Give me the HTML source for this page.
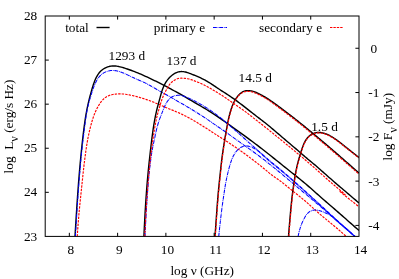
<!DOCTYPE html>
<html>
<head>
<meta charset="utf-8">
<title>Radio spectra</title>
<style>
html,body{margin:0;padding:0;background:#ffffff;}
body{width:399px;height:279px;overflow:hidden;font-family:"Liberation Serif",serif;}
svg{display:block;will-change:transform;}
</style>
</head>
<body>
<svg width="399" height="279" viewBox="0 0 399 279">
<rect x="0" y="0" width="399" height="279" fill="#ffffff"/>
<defs><clipPath id="cp"><rect x="45.20" y="16.00" width="313.80" height="220.40"/></clipPath></defs>
<g clip-path="url(#cp)" fill="none" stroke-linejoin="round">
<path d="M75.00,236.50L75.15,233.94L75.31,231.37L75.47,228.78L75.62,226.18L75.78,223.56L75.95,220.93L76.11,218.29L76.28,215.63L76.45,212.97L76.62,210.30L76.79,207.62L76.97,204.93L77.15,202.24L77.34,199.55L77.52,196.85L77.71,194.15L77.91,191.44L78.11,188.74L78.31,186.04L78.51,183.34L78.72,180.64L78.94,177.95L79.15,175.27L79.38,172.59L79.61,169.91L79.84,167.25L80.08,164.59L80.32,161.93L80.57,159.26L80.83,156.57L81.10,153.84L81.38,151.07L81.67,148.25L81.98,145.38L82.29,142.49L82.61,139.60L82.94,136.72L83.27,133.89L83.61,131.11L83.95,128.42L84.29,125.81L84.64,123.29L84.99,120.85L85.35,118.48L85.72,116.19L86.10,113.97L86.49,111.81L86.89,109.71L87.31,107.65L87.74,105.63L88.18,103.64L88.64,101.66L89.12,99.71L89.61,97.75L90.12,95.79L90.64,93.82L91.18,91.85L91.74,89.89L92.30,87.97L92.88,86.12L93.46,84.34L94.06,82.66L94.67,81.06L95.29,79.56L95.94,78.14L96.61,76.80L97.32,75.55L98.06,74.38L98.83,73.29L99.65,72.28L100.51,71.34L101.42,70.48L102.38,69.70L103.37,68.99L104.41,68.36L105.47,67.80L106.55,67.32L107.66,66.90L108.78,66.56L109.91,66.30L111.05,66.10L112.18,65.97L113.32,65.92L114.44,65.94L115.56,66.01L116.68,66.15L117.80,66.33L118.92,66.56L120.05,66.82L121.19,67.12L122.34,67.44L123.51,67.79L124.71,68.16L125.97,68.56L127.30,69.00L128.68,69.47L130.12,69.98L131.60,70.52L133.12,71.09L134.66,71.68L136.21,72.30L137.77,72.93L139.31,73.57L140.85,74.23L142.39,74.90L143.91,75.58L145.43,76.27L146.95,76.97L148.45,77.67L149.95,78.38L151.43,79.09L152.91,79.80L154.39,80.51L155.85,81.22L157.30,81.93L158.76,82.65L160.21,83.37L161.67,84.10L163.14,84.85L164.61,85.61L166.11,86.40L167.62,87.21L169.16,88.04L170.74,88.91L172.37,89.81L174.07,90.75L175.83,91.72L177.62,92.72L179.43,93.73L181.22,94.73L182.97,95.73L184.67,96.70L186.31,97.65L187.93,98.60L189.53,99.53L191.12,100.47L192.72,101.42L194.35,102.39L196.04,103.37L197.78,104.39L199.59,105.44L201.44,106.51L203.30,107.59L205.15,108.67L206.95,109.74L208.68,110.79L210.34,111.82L211.93,112.83L213.48,113.83L214.99,114.83L216.47,115.82L217.93,116.82L219.38,117.82L220.83,118.84L222.28,119.87L223.76,120.93L225.27,122.01L226.82,123.12L228.42,124.26L230.07,125.44L231.75,126.64L233.47,127.87L235.21,129.11L236.96,130.37L238.72,131.63L240.48,132.90L242.24,134.16L243.98,135.42L245.70,136.66L247.39,137.89L249.05,139.12L250.70,140.33L252.33,141.54L253.94,142.75L255.55,143.96L257.14,145.17L258.72,146.38L260.30,147.60L261.87,148.82L263.45,150.05L265.02,151.28L266.60,152.53L268.18,153.78L269.78,155.04L271.38,156.32L272.99,157.61L274.62,158.91L276.27,160.23L277.94,161.57L279.63,162.92L281.34,164.30L283.08,165.69L284.85,167.10L286.65,168.54L288.47,169.99L290.32,171.46L292.18,172.94L294.03,174.42L295.87,175.90L297.70,177.37L299.49,178.82L301.24,180.24L302.95,181.64L304.59,183.00L306.17,184.32L307.67,185.60L309.12,186.85L310.53,188.08L311.91,189.29L313.28,190.51L314.64,191.72L315.99,192.93L317.34,194.13L318.69,195.34L320.04,196.53L321.41,197.74L322.83,198.98L324.32,200.27L325.88,201.62L327.52,203.02L329.22,204.48L330.98,205.99L332.77,207.54L334.61,209.12L336.46,210.73L338.33,212.36L340.20,214.00L342.06,215.63L343.90,217.25L345.71,218.85L347.49,220.41L349.21,221.94L350.87,223.40L352.47,224.81L353.98,226.13L355.40,227.38L356.71,228.53L357.92,229.57L359.00,230.50" stroke="#000000" stroke-width="1.40"/>
<path d="M75.40,236.50L75.54,234.10L75.69,231.68L75.83,229.26L75.98,226.82L76.13,224.38L76.28,221.93L76.43,219.47L76.59,217.00L76.74,214.52L76.90,212.03L77.07,209.54L77.23,207.04L77.40,204.54L77.57,202.03L77.74,199.51L77.92,196.99L78.10,194.46L78.28,191.93L78.47,189.39L78.66,186.85L78.85,184.31L79.05,181.77L79.25,179.23L79.45,176.69L79.65,174.16L79.86,171.65L80.07,169.16L80.28,166.69L80.49,164.23L80.71,161.79L80.93,159.33L81.17,156.86L81.41,154.34L81.68,151.78L81.96,149.15L82.26,146.46L82.57,143.72L82.90,140.97L83.23,138.21L83.56,135.49L83.89,132.82L84.21,130.22L84.52,127.72L84.83,125.31L85.13,122.98L85.43,120.74L85.73,118.57L86.04,116.46L86.37,114.40L86.71,112.39L87.07,110.43L87.45,108.49L87.87,106.58L88.31,104.68L88.80,102.80L89.30,100.93L89.83,99.09L90.38,97.28L90.92,95.51L91.46,93.78L92.00,92.11L92.54,90.48L93.08,88.91L93.63,87.39L94.18,85.93L94.75,84.53L95.34,83.19L95.95,81.92L96.58,80.70L97.24,79.56L97.93,78.48L98.66,77.47L99.42,76.53L100.22,75.66L101.06,74.86L101.92,74.13L102.81,73.47L103.73,72.88L104.67,72.35L105.64,71.89L106.63,71.50L107.63,71.17L108.66,70.90L109.70,70.70L110.75,70.56L111.81,70.48L112.88,70.47L113.96,70.51L115.04,70.62L116.12,70.78L117.21,71.00L118.28,71.27L119.35,71.58L120.41,71.92L121.45,72.29L122.46,72.68L123.45,73.07L124.47,73.50L125.54,73.98L126.72,74.52L127.99,75.12L129.33,75.76L130.73,76.43L132.18,77.12L133.65,77.82L135.14,78.51L136.63,79.18L138.11,79.82L139.56,80.44L140.99,81.04L142.39,81.65L143.75,82.26L145.07,82.88L146.36,83.53L147.62,84.18L148.86,84.85L150.08,85.52L151.28,86.21L152.48,86.90L153.67,87.59L154.87,88.29L156.06,88.99L157.27,89.69L158.50,90.39L159.76,91.11L161.10,91.86L162.55,92.67L164.14,93.56L165.88,94.53L167.71,95.56L169.57,96.61L171.40,97.65L173.14,98.64L174.74,99.56L176.19,100.40L177.56,101.19L178.88,101.96L180.21,102.72L181.59,103.51L183.04,104.33L184.58,105.20L186.21,106.15L187.97,107.18L189.85,108.30L191.81,109.48L193.82,110.71L195.84,111.97L197.84,113.23L199.78,114.46L201.63,115.65L203.38,116.79L205.02,117.89L206.58,118.93L208.04,119.91L209.40,120.85L210.71,121.75L212.01,122.64L213.38,123.58L214.86,124.60L216.51,125.73L218.31,126.96L220.23,128.27L222.23,129.64L224.27,131.05L226.32,132.47L228.35,133.90L230.33,135.31L232.27,136.70L234.18,138.09L236.06,139.45L237.93,140.81L239.79,142.15L241.65,143.48L243.52,144.81L245.40,146.14L247.31,147.49L249.25,148.87L251.23,150.29L253.26,151.75L255.33,153.25L257.39,154.76L259.40,156.25L261.31,157.67L263.07,159.00L264.64,160.20L265.98,161.25L267.16,162.19L268.29,163.11L269.47,164.07L270.80,165.15L272.31,166.36L273.96,167.69L275.69,169.09L277.48,170.53L279.28,172.00L281.04,173.45L282.75,174.88L284.42,176.30L286.07,177.70L287.71,179.08L289.34,180.47L290.97,181.84L292.62,183.22L294.27,184.60L295.93,185.98L297.59,187.36L299.26,188.74L300.93,190.13L302.60,191.52L304.27,192.91L305.94,194.30L307.62,195.70L309.29,197.10L310.96,198.51L312.63,199.91L314.30,201.32L315.96,202.73L317.62,204.14L319.28,205.56L320.93,206.97L322.58,208.39L324.23,209.80L325.87,211.22L327.50,212.64L329.13,214.06L330.75,215.48L332.36,216.90L333.99,218.33L335.63,219.78L337.30,221.25L339.00,222.75L340.75,224.28L342.55,225.86L344.42,227.48L346.37,229.15L348.40,230.88L350.53,232.68L352.76,234.55L355.10,236.50" stroke="#0000ff" stroke-width="1.05" stroke-dasharray="3.8,0.8,0.8,0.8"/>
<path d="M77.25,236.50L77.51,232.59L77.77,228.87L78.04,225.33L78.30,221.96L78.56,218.75L78.81,215.68L79.07,212.75L79.33,209.94L79.58,207.24L79.84,204.64L80.09,202.13L80.34,199.70L80.59,197.33L80.83,195.01L81.07,192.73L81.32,190.49L81.55,188.26L81.79,186.04L82.02,183.81L82.26,181.57L82.49,179.32L82.72,177.06L82.96,174.79L83.20,172.50L83.45,170.20L83.71,167.89L83.97,165.57L84.25,163.23L84.54,160.91L84.83,158.60L85.13,156.33L85.43,154.09L85.73,151.91L86.03,149.78L86.34,147.73L86.64,145.74L86.95,143.81L87.27,141.91L87.61,140.05L87.95,138.20L88.31,136.37L88.69,134.55L89.08,132.75L89.49,130.97L89.90,129.23L90.32,127.52L90.75,125.85L91.18,124.23L91.62,122.66L92.07,121.13L92.52,119.64L92.99,118.19L93.47,116.78L93.96,115.41L94.47,114.07L95.00,112.76L95.55,111.48L96.12,110.23L96.72,109.00L97.34,107.80L97.98,106.63L98.66,105.47L99.36,104.34L100.09,103.24L100.85,102.18L101.64,101.17L102.45,100.22L103.29,99.33L104.15,98.52L105.04,97.78L105.95,97.14L106.88,96.57L107.83,96.08L108.79,95.66L109.76,95.30L110.74,94.99L111.73,94.74L112.71,94.53L113.69,94.36L114.67,94.22L115.64,94.10L116.60,94.01L117.56,93.94L118.52,93.89L119.48,93.87L120.45,93.88L121.44,93.91L122.45,93.96L123.47,94.05L124.53,94.16L125.61,94.29L126.75,94.46L127.96,94.67L129.27,94.92L130.70,95.21L132.23,95.54L133.80,95.91L135.36,96.28L136.85,96.65L138.22,97.01L139.45,97.35L140.60,97.68L141.70,98.02L142.83,98.37L144.01,98.75L145.24,99.16L146.52,99.59L147.83,100.04L149.17,100.52L150.52,101.01L151.90,101.52L153.27,102.06L154.65,102.60L156.01,103.17L157.36,103.74L158.70,104.32L160.02,104.90L161.33,105.49L162.62,106.06L163.90,106.63L165.15,107.18L166.39,107.71L167.60,108.22L168.80,108.71L169.98,109.18L171.17,109.65L172.37,110.13L173.59,110.63L174.83,111.14L176.09,111.67L177.37,112.22L178.66,112.79L179.97,113.38L181.30,113.99L182.65,114.62L184.01,115.28L185.39,115.97L186.78,116.68L188.19,117.41L189.62,118.17L191.05,118.96L192.50,119.78L193.96,120.63L195.40,121.48L196.81,122.33L198.16,123.16L199.42,123.95L200.59,124.69L201.67,125.38L202.71,126.05L203.75,126.71L204.83,127.39L205.96,128.10L207.11,128.82L208.27,129.55L209.41,130.27L210.51,130.98L211.61,131.70L212.74,132.45L213.97,133.26L215.32,134.14L216.84,135.12L218.49,136.17L220.25,137.29L222.08,138.45L223.95,139.65L225.84,140.86L227.72,142.07L229.56,143.27L231.36,144.46L233.13,145.65L234.87,146.83L236.60,148.02L238.31,149.20L240.01,150.40L241.70,151.60L243.39,152.82L245.09,154.05L246.81,155.31L248.53,156.59L250.28,157.90L252.06,159.24L253.86,160.62L255.68,162.01L257.49,163.41L259.26,164.80L260.97,166.15L262.60,167.46L264.13,168.70L265.52,169.85L266.79,170.93L267.97,171.93L269.12,172.90L270.28,173.83L271.49,174.76L272.78,175.70L274.15,176.67L275.59,177.67L277.10,178.72L278.66,179.83L280.27,181.01L281.92,182.26L283.60,183.58L285.31,184.95L287.03,186.34L288.76,187.75L290.48,189.16L292.19,190.55L293.88,191.90L295.55,193.23L297.22,194.55L298.89,195.88L300.57,197.22L302.27,198.61L304.00,200.04L305.77,201.54L307.57,203.11L309.40,204.73L311.25,206.39L313.11,208.06L314.96,209.72L316.80,211.38L318.62,212.99L320.41,214.56L322.16,216.06L323.88,217.51L325.57,218.92L327.24,220.30L328.90,221.66L330.56,223.01L332.21,224.36L333.87,225.73L335.54,227.11L337.23,228.53L338.95,230.00L340.70,231.51L342.49,233.10L344.32,234.76L346.20,236.50" stroke="#ff0000" stroke-width="1.15" stroke-dasharray="2.4,1.1"/>
<path d="M143.90,236.50L143.99,234.46L144.09,232.39L144.19,230.31L144.29,228.21L144.39,226.09L144.50,223.95L144.61,221.80L144.72,219.64L144.84,217.47L144.96,215.29L145.08,213.10L145.21,210.90L145.34,208.69L145.47,206.49L145.61,204.28L145.76,202.06L145.90,199.85L146.05,197.64L146.21,195.43L146.37,193.23L146.53,191.03L146.70,188.84L146.87,186.66L147.04,184.49L147.22,182.33L147.41,180.17L147.60,178.02L147.80,175.88L148.00,173.73L148.20,171.58L148.41,169.43L148.63,167.26L148.85,165.09L149.08,162.90L149.32,160.70L149.56,158.48L149.80,156.24L150.06,153.97L150.32,151.68L150.58,149.36L150.86,147.01L151.14,144.64L151.42,142.27L151.71,139.91L152.01,137.58L152.31,135.27L152.61,133.02L152.92,130.82L153.22,128.70L153.54,126.66L153.85,124.68L154.17,122.78L154.50,120.93L154.82,119.15L155.16,117.42L155.49,115.75L155.84,114.12L156.18,112.53L156.54,110.99L156.90,109.48L157.27,108.00L157.65,106.55L158.03,105.12L158.41,103.71L158.80,102.31L159.18,100.91L159.56,99.50L159.94,98.10L160.32,96.69L160.70,95.29L161.09,93.90L161.50,92.52L161.92,91.15L162.37,89.81L162.84,88.50L163.35,87.22L163.89,85.97L164.47,84.76L165.09,83.59L165.75,82.47L166.44,81.39L167.16,80.35L167.91,79.37L168.69,78.43L169.50,77.54L170.33,76.71L171.19,75.94L172.06,75.22L172.95,74.56L173.86,73.96L174.78,73.42L175.72,72.95L176.66,72.54L177.62,72.20L178.58,71.93L179.54,71.73L180.51,71.61L181.48,71.55L182.45,71.58L183.43,71.66L184.40,71.82L185.39,72.02L186.38,72.28L187.39,72.58L188.41,72.92L189.45,73.29L190.50,73.69L191.58,74.12L192.67,74.55L193.80,75.01L194.93,75.47L196.08,75.94L197.24,76.43L198.41,76.93L199.56,77.45L200.72,77.97L201.86,78.51L202.98,79.07L204.09,79.64L205.17,80.22L206.23,80.82L207.27,81.42L208.30,82.03L209.31,82.65L210.31,83.28L211.29,83.91L212.26,84.54L213.22,85.18L214.17,85.81L215.11,86.44L216.05,87.08L216.98,87.71L217.94,88.35L218.95,89.03L220.05,89.75L221.26,90.54L222.57,91.39L223.95,92.28L225.37,93.20L226.80,94.12L228.19,95.02L229.52,95.90L230.77,96.74L231.98,97.56L233.16,98.37L234.33,99.19L235.51,100.04L236.71,100.92L237.93,101.82L239.17,102.75L240.43,103.71L241.69,104.67L242.97,105.65L244.24,106.64L245.52,107.64L246.79,108.63L248.06,109.63L249.32,110.61L250.56,111.59L251.79,112.55L252.99,113.50L254.18,114.42L255.33,115.31L256.46,116.18L257.56,117.02L258.63,117.84L259.70,118.64L260.76,119.45L261.82,120.26L262.90,121.08L263.99,121.93L265.12,122.81L266.28,123.74L267.48,124.71L268.74,125.74L270.04,126.82L271.38,127.94L272.75,129.09L274.14,130.27L275.54,131.47L276.95,132.67L278.36,133.88L279.76,135.08L281.13,136.26L282.49,137.42L283.80,138.55L285.08,139.63L286.32,140.68L287.53,141.71L288.76,142.74L290.03,143.82L291.37,144.95L292.80,146.17L294.35,147.50L295.97,148.89L297.63,150.32L299.28,151.75L300.89,153.14L302.40,154.45L303.79,155.65L305.00,156.69L306.05,157.59L307.00,158.40L307.93,159.19L308.91,160.00L309.97,160.88L311.09,161.79L312.24,162.73L313.40,163.69L314.54,164.64L315.65,165.58L316.74,166.51L317.84,167.46L318.97,168.45L320.17,169.51L321.46,170.66L322.85,171.89L324.33,173.20L325.87,174.56L327.46,175.97L329.08,177.40L330.72,178.85L332.36,180.28L334.00,181.70L335.61,183.10L337.23,184.48L338.83,185.85L340.44,187.22L342.04,188.58L343.66,189.95L345.28,191.32L346.91,192.70L348.56,194.10L350.23,195.51L351.92,196.95L353.64,198.41L355.39,199.90L357.18,201.43L359.00,203.00" stroke="#000000" stroke-width="1.40"/>
<path d="M145.00,236.50L145.08,234.66L145.17,232.82L145.26,230.97L145.35,229.10L145.44,227.23L145.53,225.35L145.62,223.46L145.72,221.57L145.82,219.67L145.92,217.76L146.03,215.85L146.13,213.94L146.24,212.02L146.36,210.09L146.47,208.16L146.59,206.23L146.71,204.30L146.84,202.36L146.96,200.43L147.09,198.49L147.23,196.55L147.37,194.61L147.51,192.68L147.65,190.74L147.80,188.80L147.95,186.87L148.11,184.94L148.27,183.01L148.44,181.08L148.61,179.15L148.79,177.22L148.97,175.28L149.17,173.33L149.37,171.37L149.58,169.39L149.80,167.40L150.04,165.39L150.28,163.37L150.53,161.37L150.79,159.38L151.06,157.43L151.33,155.53L151.61,153.68L151.89,151.91L152.18,150.23L152.47,148.65L152.76,147.14L153.05,145.69L153.35,144.27L153.66,142.85L153.97,141.42L154.28,139.94L154.60,138.40L154.94,136.81L155.27,135.18L155.62,133.53L155.99,131.88L156.36,130.23L156.75,128.61L157.15,127.02L157.57,125.49L158.00,124.02L158.43,122.62L158.85,121.30L159.27,120.07L159.68,118.93L160.07,117.89L160.44,116.94L160.80,116.03L161.16,115.12L161.53,114.17L161.92,113.16L162.33,112.09L162.75,110.99L163.19,109.86L163.65,108.72L164.13,107.57L164.63,106.42L165.16,105.30L165.70,104.21L166.27,103.16L166.86,102.16L167.48,101.22L168.13,100.35L168.80,99.55L169.51,98.81L170.25,98.14L171.02,97.54L171.83,97.01L172.69,96.55L173.58,96.16L174.52,95.85L175.49,95.60L176.48,95.43L177.47,95.33L178.45,95.29L179.40,95.32L180.33,95.41L181.26,95.56L182.20,95.76L183.16,96.02L184.14,96.32L185.15,96.67L186.18,97.05L187.22,97.47L188.28,97.92L189.36,98.40L190.44,98.90L191.52,99.43L192.62,99.97L193.71,100.52L194.80,101.08L195.88,101.66L196.97,102.24L198.05,102.83L199.13,103.43L200.21,104.03L201.29,104.65L202.36,105.28L203.43,105.92L204.50,106.56L205.56,107.22L206.63,107.89L207.69,108.56L208.74,109.25L209.80,109.94L210.85,110.65L211.90,111.37L212.94,112.09L213.98,112.83L215.03,113.58L216.08,114.35L217.14,115.14L218.21,115.96L219.30,116.80L220.40,117.67L221.53,118.57L222.69,119.51L223.88,120.49L225.09,121.50L226.35,122.57L227.65,123.68L228.98,124.84L230.36,126.04L231.76,127.27L233.18,128.53L234.62,129.82L236.07,131.11L237.52,132.41L238.97,133.70L240.41,134.98L241.83,136.25L243.25,137.51L244.66,138.76L246.07,140.01L247.48,141.26L248.90,142.52L250.34,143.78L251.79,145.06L253.26,146.36L254.75,147.68L256.24,148.99L257.71,150.29L259.16,151.57L260.56,152.80L261.91,153.98L263.17,155.10L264.35,156.13L265.43,157.08L266.42,157.94L267.36,158.76L268.29,159.55L269.23,160.35L270.24,161.19L271.32,162.09L272.48,163.04L273.69,164.03L274.96,165.07L276.27,166.13L277.59,167.22L278.93,168.32L280.26,169.42L281.58,170.52L282.89,171.62L284.19,172.72L285.48,173.81L286.76,174.91L288.04,176.01L289.31,177.10L290.58,178.20L291.85,179.31L293.11,180.41L294.37,181.52L295.63,182.63L296.89,183.74L298.15,184.85L299.41,185.97L300.67,187.09L301.93,188.21L303.18,189.34L304.44,190.47L305.70,191.60L306.95,192.74L308.21,193.88L309.47,195.02L310.73,196.17L311.99,197.32L313.25,198.48L314.51,199.64L315.77,200.80L317.03,201.96L318.29,203.12L319.55,204.28L320.81,205.44L322.06,206.60L323.31,207.75L324.56,208.91L325.81,210.06L327.06,211.20L328.30,212.34L329.54,213.48L330.77,214.61L332.00,215.73L333.24,216.86L334.48,217.99L335.73,219.12L337.00,220.27L338.28,221.44L339.59,222.63L340.92,223.84L342.29,225.08L343.69,226.35L345.13,227.66L346.61,229.01L348.14,230.40L349.72,231.84L351.35,233.34L353.04,234.89L354.80,236.50" stroke="#0000ff" stroke-width="1.05" stroke-dasharray="3.8,0.8,0.8,0.8"/>
<path d="M144.80,236.50L144.88,234.56L144.97,232.61L145.06,230.63L145.15,228.64L145.25,226.64L145.35,224.62L145.46,222.59L145.56,220.55L145.67,218.50L145.79,216.44L145.90,214.37L146.03,212.30L146.15,210.22L146.28,208.13L146.41,206.04L146.54,203.95L146.68,201.86L146.82,199.77L146.96,197.68L147.11,195.59L147.26,193.50L147.42,191.42L147.57,189.34L147.73,187.27L147.90,185.21L148.06,183.16L148.23,181.11L148.41,179.07L148.59,177.03L148.77,174.99L148.96,172.95L149.15,170.91L149.35,168.86L149.56,166.81L149.77,164.75L149.99,162.68L150.22,160.60L150.46,158.50L150.70,156.38L150.96,154.25L151.22,152.10L151.49,149.92L151.77,147.72L152.07,145.51L152.37,143.28L152.67,141.06L152.99,138.85L153.31,136.66L153.64,134.49L153.97,132.36L154.30,130.28L154.64,128.25L154.98,126.28L155.33,124.38L155.67,122.56L156.01,120.83L156.35,119.20L156.69,117.67L157.03,116.26L157.37,114.94L157.70,113.70L158.04,112.50L158.38,111.32L158.72,110.12L159.07,108.88L159.42,107.62L159.79,106.33L160.16,105.03L160.55,103.72L160.96,102.40L161.38,101.08L161.83,99.77L162.29,98.48L162.79,97.20L163.31,95.95L163.86,94.74L164.42,93.55L165.00,92.41L165.58,91.31L166.16,90.25L166.72,89.24L167.27,88.29L167.79,87.39L168.28,86.55L168.74,85.77L169.19,85.03L169.68,84.32L170.25,83.61L170.92,82.90L171.68,82.19L172.52,81.49L173.42,80.83L174.36,80.22L175.33,79.67L176.31,79.19L177.28,78.81L178.23,78.52L179.19,78.33L180.18,78.22L181.24,78.19L182.41,78.21L183.69,78.29L185.03,78.41L186.39,78.57L187.70,78.77L188.91,79.01L190.00,79.29L190.99,79.58L191.91,79.90L192.78,80.22L193.64,80.55L194.50,80.87L195.35,81.19L196.20,81.51L197.04,81.84L197.87,82.17L198.69,82.51L199.51,82.86L200.32,83.21L201.13,83.57L201.93,83.95L202.72,84.33L203.51,84.71L204.30,85.11L205.09,85.51L205.88,85.93L206.66,86.35L207.45,86.77L208.24,87.21L209.03,87.65L209.82,88.11L210.62,88.56L211.43,89.03L212.24,89.51L213.06,89.99L213.88,90.48L214.72,90.98L215.57,91.49L216.43,92.01L217.31,92.55L218.22,93.11L219.15,93.69L220.11,94.30L221.11,94.93L222.13,95.59L223.20,96.29L224.31,97.02L225.46,97.79L226.67,98.61L227.92,99.46L229.22,100.36L230.55,101.28L231.87,102.21L233.17,103.12L234.42,104.00L235.59,104.83L236.67,105.58L237.64,106.27L238.55,106.90L239.40,107.49L240.22,108.04L241.03,108.58L241.85,109.14L242.73,109.74L243.70,110.43L244.77,111.22L245.95,112.10L247.21,113.07L248.55,114.11L249.94,115.19L251.36,116.31L252.81,117.44L254.27,118.58L255.75,119.73L257.25,120.90L258.78,122.09L260.33,123.30L261.93,124.56L263.57,125.85L265.26,127.19L267.00,128.57L268.78,130.00L270.58,131.45L272.39,132.91L274.20,134.37L276.00,135.83L277.76,137.26L279.48,138.66L281.14,140.02L282.74,141.32L284.28,142.57L285.77,143.79L287.23,144.98L288.66,146.15L290.09,147.32L291.51,148.48L292.95,149.67L294.41,150.87L295.90,152.09L297.39,153.33L298.91,154.59L300.43,155.86L301.96,157.14L303.50,158.43L305.04,159.73L306.58,161.03L308.12,162.34L309.65,163.65L311.18,164.97L312.69,166.28L314.19,167.59L315.67,168.90L317.13,170.20L318.58,171.50L320.03,172.80L321.50,174.14L323.03,175.51L324.63,176.94L326.33,178.45L328.15,180.05L330.12,181.76L332.25,183.59L334.56,185.55L336.94,187.55L339.25,189.49L341.36,191.28L343.14,192.79L344.44,193.94L345.13,194.61L345.08,194.70L344.18,194.14L342.72,193.14L341.21,192.10L340.14,191.41L340.01,191.45L341.33,192.62L344.60,195.31L350.32,199.91L359.00,206.80" stroke="#ff0000" stroke-width="1.15" stroke-dasharray="2.4,1.1"/>
<path d="M215.00,236.50L215.19,233.77L215.37,231.16L215.55,228.66L215.72,226.27L215.87,223.99L216.03,221.80L216.18,219.70L216.32,217.69L216.45,215.76L216.59,213.91L216.71,212.12L216.84,210.40L216.96,208.75L217.08,207.14L217.20,205.59L217.31,204.08L217.43,202.61L217.54,201.17L217.66,199.76L217.77,198.37L217.89,197.00L218.00,195.64L218.12,194.28L218.24,192.93L218.37,191.57L218.50,190.21L218.63,188.82L218.76,187.42L218.91,186.00L219.05,184.55L219.20,183.09L219.35,181.62L219.51,180.15L219.66,178.69L219.81,177.23L219.97,175.80L220.12,174.39L220.27,173.01L220.41,171.66L220.55,170.36L220.69,169.10L220.82,167.89L220.94,166.72L221.07,165.58L221.19,164.47L221.31,163.38L221.44,162.31L221.56,161.24L221.69,160.18L221.82,159.12L221.95,158.06L222.09,156.99L222.24,155.92L222.38,154.83L222.53,153.75L222.69,152.65L222.85,151.54L223.01,150.43L223.18,149.30L223.36,148.16L223.53,147.01L223.72,145.84L223.90,144.66L224.10,143.46L224.29,142.25L224.49,141.02L224.70,139.76L224.91,138.49L225.13,137.20L225.35,135.90L225.58,134.58L225.81,133.26L226.04,131.94L226.27,130.63L226.50,129.33L226.73,128.06L226.95,126.82L227.18,125.62L227.40,124.46L227.61,123.35L227.82,122.30L228.02,121.28L228.22,120.31L228.42,119.38L228.62,118.48L228.82,117.61L229.02,116.77L229.22,115.94L229.42,115.13L229.63,114.33L229.84,113.54L230.06,112.76L230.29,111.97L230.53,111.17L230.77,110.37L231.03,109.55L231.30,108.73L231.58,107.90L231.87,107.07L232.19,106.23L232.51,105.38L232.86,104.54L233.23,103.70L233.62,102.86L234.02,102.03L234.44,101.20L234.89,100.39L235.35,99.59L235.83,98.81L236.32,98.05L236.84,97.31L237.37,96.60L237.93,95.91L238.50,95.25L239.09,94.63L239.69,94.04L240.32,93.49L240.96,92.98L241.62,92.52L242.29,92.10L242.99,91.73L243.70,91.41L244.43,91.15L245.17,90.94L245.93,90.78L246.70,90.68L247.49,90.62L248.28,90.62L249.08,90.65L249.88,90.73L250.68,90.84L251.49,90.99L252.29,91.17L253.10,91.39L253.89,91.63L254.68,91.90L255.46,92.19L256.23,92.50L256.99,92.83L257.74,93.17L258.49,93.53L259.23,93.90L259.97,94.28L260.70,94.66L261.44,95.05L262.17,95.44L262.91,95.85L263.66,96.28L264.42,96.71L265.18,97.17L265.97,97.64L266.77,98.13L267.58,98.65L268.42,99.19L269.29,99.75L270.18,100.35L271.10,100.98L272.05,101.63L273.03,102.33L274.05,103.05L275.09,103.81L276.16,104.59L277.26,105.40L278.37,106.22L279.50,107.06L280.63,107.92L281.78,108.78L282.93,109.65L284.08,110.52L285.23,111.38L286.37,112.25L287.50,113.11L288.63,113.97L289.74,114.82L290.85,115.66L291.94,116.50L293.02,117.33L294.09,118.16L295.14,118.98L296.18,119.79L297.21,120.59L298.21,121.39L299.20,122.18L300.18,122.96L301.15,123.74L302.11,124.52L303.08,125.31L304.04,126.10L305.01,126.89L305.99,127.70L306.99,128.51L307.99,129.34L309.02,130.19L310.06,131.05L311.11,131.91L312.18,132.79L313.25,133.68L314.34,134.58L315.42,135.48L316.51,136.38L317.61,137.29L318.70,138.20L319.79,139.12L320.88,140.03L321.96,140.94L323.04,141.85L324.11,142.76L325.18,143.66L326.25,144.57L327.32,145.48L328.39,146.39L329.45,147.30L330.52,148.21L331.58,149.13L332.64,150.04L333.70,150.96L334.77,151.87L335.83,152.79L336.89,153.72L337.96,154.64L339.03,155.57L340.10,156.50L341.17,157.44L342.25,158.38L343.33,159.32L344.41,160.27L345.50,161.22L346.59,162.18L347.68,163.14L348.79,164.11L349.89,165.08L351.01,166.06L352.13,167.05L353.25,168.04L354.39,169.04L355.53,170.04L356.68,171.05L357.83,172.07L359.00,173.10" stroke="#000000" stroke-width="1.40"/>
<path d="M218.75,236.50L218.86,235.35L218.97,234.17L219.09,232.97L219.22,231.75L219.34,230.51L219.48,229.25L219.61,227.98L219.75,226.69L219.89,225.40L220.03,224.10L220.18,222.79L220.33,221.48L220.48,220.17L220.63,218.86L220.79,217.55L220.94,216.26L221.10,214.97L221.25,213.69L221.41,212.42L221.56,211.18L221.72,209.95L221.87,208.74L222.03,207.55L222.18,206.39L222.33,205.26L222.48,204.16L222.63,203.08L222.77,202.04L222.92,201.02L223.06,200.02L223.21,199.03L223.35,198.06L223.49,197.08L223.64,196.11L223.79,195.13L223.94,194.14L224.09,193.13L224.24,192.11L224.40,191.08L224.56,190.05L224.72,189.01L224.88,187.97L225.05,186.94L225.21,185.91L225.38,184.91L225.55,183.92L225.72,182.96L225.90,182.02L226.07,181.11L226.25,180.22L226.42,179.35L226.60,178.49L226.78,177.64L226.97,176.80L227.16,175.95L227.36,175.10L227.55,174.24L227.76,173.37L227.97,172.50L228.18,171.62L228.40,170.73L228.62,169.84L228.85,168.96L229.08,168.07L229.32,167.19L229.57,166.31L229.82,165.44L230.07,164.57L230.34,163.72L230.60,162.87L230.88,162.04L231.17,161.22L231.46,160.40L231.76,159.61L232.08,158.82L232.40,158.05L232.73,157.30L233.08,156.56L233.43,155.84L233.80,155.14L234.18,154.45L234.57,153.79L234.98,153.14L235.40,152.52L235.84,151.92L236.29,151.34L236.76,150.79L237.25,150.26L237.75,149.75L238.27,149.27L238.80,148.82L239.36,148.40L239.93,148.01L240.51,147.65L241.11,147.31L241.72,147.02L242.34,146.75L242.97,146.52L243.61,146.33L244.25,146.18L244.90,146.06L245.54,145.99L246.19,145.96L246.84,145.97L247.48,146.02L248.12,146.12L248.75,146.25L249.37,146.41L249.98,146.59L250.58,146.80L251.16,147.01L251.72,147.22L252.26,147.44L252.80,147.67L253.32,147.91L253.83,148.16L254.34,148.43L254.86,148.72L255.38,149.04L255.91,149.38L256.45,149.75L257.01,150.15L257.59,150.59L258.19,151.08L258.82,151.60L259.48,152.16L260.15,152.75L260.83,153.36L261.52,153.98L262.21,154.62L262.90,155.25L263.59,155.88L264.26,156.50L264.91,157.11L265.54,157.69L266.16,158.25L266.78,158.81L267.39,159.36L268.02,159.91L268.66,160.47L269.33,161.03L270.03,161.62L270.76,162.23L271.53,162.86L272.33,163.52L273.15,164.19L274.00,164.87L274.87,165.57L275.75,166.28L276.64,166.99L277.54,167.72L278.44,168.44L279.34,169.17L280.23,169.90L281.11,170.62L281.98,171.35L282.85,172.07L283.71,172.79L284.56,173.51L285.41,174.23L286.26,174.96L287.10,175.68L287.94,176.40L288.78,177.13L289.62,177.86L290.47,178.59L291.31,179.33L292.16,180.07L293.01,180.81L293.86,181.56L294.71,182.31L295.56,183.06L296.41,183.81L297.27,184.57L298.12,185.33L298.97,186.09L299.83,186.85L300.69,187.61L301.54,188.38L302.40,189.15L303.25,189.91L304.11,190.68L304.96,191.45L305.82,192.22L306.67,192.99L307.53,193.76L308.38,194.53L309.23,195.30L310.08,196.07L310.93,196.84L311.78,197.61L312.62,198.38L313.47,199.15L314.31,199.92L315.15,200.69L315.99,201.45L316.83,202.21L317.66,202.98L318.49,203.74L319.32,204.49L320.15,205.25L320.97,206.00L321.79,206.76L322.61,207.51L323.43,208.26L324.25,209.01L325.06,209.76L325.88,210.51L326.70,211.26L327.53,212.01L328.35,212.76L329.18,213.52L330.01,214.28L330.85,215.04L331.69,215.81L332.54,216.58L333.39,217.36L334.25,218.14L335.12,218.92L335.99,219.71L336.88,220.51L337.77,221.32L338.67,222.13L339.59,222.95L340.51,223.78L341.45,224.62L342.40,225.46L343.36,226.32L344.33,227.18L345.32,228.06L346.32,228.95L347.34,229.85L348.38,230.76L349.43,231.68L350.50,232.62L351.58,233.57L352.69,234.53L353.81,235.51L354.95,236.50" stroke="#0000ff" stroke-width="1.05" stroke-dasharray="3.8,0.8,0.8,0.8"/>
<path d="M215.30,236.52L215.49,233.79L215.67,231.18L215.85,228.68L216.01,226.29L216.17,224.01L216.33,221.82L216.47,219.72L216.62,217.71L216.75,215.78L216.89,213.93L217.01,212.14L217.14,210.43L217.26,208.77L217.38,207.17L217.50,205.61L217.61,204.10L217.73,202.63L217.84,201.19L217.95,199.78L218.07,198.39L218.18,197.02L218.30,195.66L218.42,194.31L218.54,192.96L218.67,191.60L218.79,190.23L218.93,188.85L219.06,187.45L219.20,186.03L219.35,184.58L219.50,183.12L219.65,181.65L219.80,180.18L219.96,178.72L220.11,177.27L220.26,175.83L220.42,174.42L220.56,173.04L220.71,171.69L220.85,170.39L220.98,169.13L221.11,167.92L221.24,166.75L221.37,165.61L221.49,164.50L221.61,163.41L221.73,162.34L221.86,161.28L221.99,160.22L222.12,159.16L222.25,158.10L222.39,157.03L222.53,155.96L222.68,154.88L222.83,153.79L222.99,152.69L223.15,151.59L223.31,150.47L223.48,149.34L223.65,148.21L223.83,147.05L224.01,145.89L224.20,144.71L224.39,143.51L224.59,142.30L224.79,141.06L225.00,139.81L225.21,138.54L225.43,137.25L225.65,135.95L225.87,134.63L226.10,133.31L226.33,131.99L226.56,130.68L226.79,129.39L227.02,128.12L227.25,126.88L227.47,125.68L227.69,124.52L227.90,123.41L228.11,122.35L228.31,121.34L228.52,120.38L228.71,119.45L228.91,118.55L229.11,117.68L229.31,116.84L229.51,116.01L229.71,115.21L229.92,114.41L230.13,113.62L230.35,112.84L230.58,112.05L230.81,111.26L231.06,110.46L231.31,109.64L231.58,108.82L231.86,108.00L232.16,107.17L232.47,106.33L232.79,105.50L233.14,104.66L233.50,103.82L233.89,102.99L234.29,102.16L234.71,101.34L235.15,100.54L235.61,99.75L236.10,98.98L236.60,98.24L237.12,97.52L237.66,96.82L238.22,96.16L238.80,95.52L239.39,94.93L239.99,94.37L240.62,93.85L241.25,93.38L241.90,92.95L242.57,92.58L243.24,92.25L243.93,91.98L244.63,91.77L245.33,91.60L246.05,91.49L246.78,91.43L247.52,91.40L248.27,91.42L249.02,91.45L249.79,91.52L250.56,91.63L251.33,91.77L252.10,91.95L252.88,92.16L253.65,92.39L254.41,92.65L255.17,92.93L255.92,93.24L256.66,93.56L257.40,93.90L258.14,94.25L258.87,94.61L259.60,94.99L260.33,95.37L261.06,95.75L261.79,96.15L262.52,96.55L263.26,96.97L264.01,97.40L264.77,97.85L265.55,98.32L266.34,98.81L267.15,99.32L267.99,99.86L268.84,100.42L269.73,101.01L270.64,101.64L271.59,102.29L272.57,102.98L273.58,103.70L274.62,104.46L275.69,105.24L276.78,106.04L277.89,106.86L279.02,107.70L280.15,108.55L281.30,109.42L282.45,110.28L283.60,111.15L284.74,112.02L285.88,112.89L287.02,113.75L288.14,114.60L289.26,115.45L290.36,116.30L291.45,117.14L292.53,117.97L293.60,118.79L294.65,119.61L295.69,120.42L296.71,121.22L297.71,122.01L298.70,122.80L299.68,123.58L300.64,124.36L301.61,125.14L302.57,125.93L303.54,126.72L304.51,127.51L305.49,128.32L306.48,129.13L307.49,129.96L308.51,130.81L309.55,131.66L310.60,132.53L311.67,133.41L312.74,134.30L313.82,135.19L314.91,136.09L316.00,137.00L317.09,137.91L318.19,138.82L319.28,139.73L320.36,140.64L321.44,141.55L322.52,142.46L323.60,143.37L324.67,144.27L325.74,145.18L326.80,146.09L327.87,147.00L328.93,147.91L330.00,148.82L331.06,149.73L332.12,150.65L333.18,151.56L334.24,152.48L335.31,153.40L336.37,154.32L337.44,155.25L338.50,156.17L339.57,157.11L340.65,158.04L341.72,158.98L342.80,159.92L343.88,160.87L344.97,161.82L346.06,162.78L347.16,163.74L348.26,164.71L349.37,165.68L350.48,166.66L351.60,167.65L352.72,168.64L353.86,169.64L355.00,170.64L356.15,171.65L357.31,172.67L358.47,173.70" stroke="#ff0000" stroke-width="1.15" stroke-dasharray="2.4,1.1"/>
<path d="M288.50,236.50L288.57,235.58L288.64,234.65L288.72,233.72L288.79,232.79L288.86,231.86L288.94,230.93L289.01,230.00L289.09,229.07L289.16,228.14L289.24,227.21L289.31,226.28L289.39,225.35L289.47,224.43L289.54,223.51L289.62,222.59L289.69,221.68L289.77,220.77L289.85,219.87L289.92,218.97L290.00,218.08L290.08,217.19L290.16,216.31L290.23,215.43L290.31,214.57L290.39,213.71L290.46,212.86L290.54,212.01L290.61,211.18L290.69,210.36L290.77,209.54L290.84,208.74L290.92,207.95L290.99,207.16L291.06,206.39L291.14,205.63L291.21,204.89L291.28,204.15L291.36,203.43L291.43,202.72L291.50,202.01L291.58,201.31L291.65,200.61L291.73,199.92L291.80,199.22L291.88,198.53L291.96,197.83L292.04,197.13L292.12,196.42L292.21,195.70L292.30,194.98L292.39,194.24L292.48,193.50L292.58,192.74L292.68,191.98L292.78,191.20L292.88,190.43L292.99,189.64L293.09,188.85L293.20,188.05L293.32,187.25L293.43,186.45L293.55,185.65L293.66,184.84L293.78,184.03L293.90,183.22L294.02,182.42L294.15,181.61L294.27,180.81L294.40,180.01L294.53,179.22L294.66,178.43L294.79,177.65L294.92,176.87L295.05,176.10L295.18,175.34L295.31,174.58L295.45,173.84L295.58,173.11L295.71,172.39L295.85,171.68L295.98,170.98L296.12,170.30L296.26,169.63L296.39,168.98L296.53,168.33L296.67,167.69L296.81,167.06L296.95,166.43L297.10,165.80L297.25,165.17L297.41,164.53L297.57,163.88L297.74,163.23L297.91,162.56L298.09,161.88L298.27,161.19L298.47,160.48L298.67,159.76L298.87,159.03L299.08,158.30L299.29,157.56L299.50,156.82L299.72,156.07L299.94,155.33L300.16,154.58L300.39,153.85L300.61,153.11L300.83,152.39L301.06,151.68L301.28,150.98L301.50,150.29L301.72,149.62L301.94,148.96L302.16,148.31L302.38,147.68L302.60,147.07L302.82,146.46L303.04,145.88L303.27,145.30L303.49,144.74L303.72,144.19L303.96,143.65L304.19,143.13L304.44,142.62L304.68,142.12L304.94,141.64L305.19,141.16L305.46,140.70L305.73,140.25L306.01,139.81L306.29,139.38L306.59,138.97L306.89,138.56L307.21,138.17L307.53,137.79L307.86,137.41L308.20,137.05L308.55,136.70L308.91,136.36L309.28,136.04L309.66,135.73L310.04,135.43L310.44,135.14L310.84,134.86L311.25,134.60L311.66,134.35L312.09,134.12L312.52,133.90L312.96,133.69L313.40,133.50L313.85,133.32L314.31,133.16L314.78,133.02L315.25,132.89L315.72,132.77L316.20,132.67L316.69,132.59L317.18,132.52L317.68,132.47L318.18,132.44L318.69,132.43L319.20,132.43L319.72,132.45L320.24,132.49L320.76,132.55L321.29,132.62L321.82,132.71L322.35,132.82L322.89,132.95L323.43,133.08L323.97,133.24L324.51,133.41L325.05,133.59L325.59,133.78L326.14,133.99L326.68,134.21L327.22,134.44L327.77,134.68L328.31,134.93L328.85,135.19L329.38,135.46L329.92,135.74L330.45,136.03L330.98,136.32L331.51,136.62L332.04,136.93L332.56,137.25L333.07,137.57L333.58,137.89L334.09,138.22L334.60,138.55L335.10,138.89L335.60,139.24L336.10,139.58L336.59,139.94L337.09,140.29L337.58,140.65L338.07,141.02L338.56,141.38L339.05,141.75L339.53,142.13L340.02,142.51L340.51,142.89L341.00,143.27L341.49,143.66L341.98,144.05L342.47,144.44L342.97,144.83L343.46,145.23L343.96,145.63L344.46,146.03L344.97,146.43L345.48,146.83L345.99,147.24L346.50,147.64L347.01,148.05L347.53,148.46L348.05,148.87L348.57,149.28L349.09,149.69L349.62,150.11L350.14,150.52L350.67,150.93L351.19,151.35L351.72,151.77L352.25,152.18L352.78,152.60L353.30,153.02L353.83,153.43L354.35,153.85L354.88,154.27L355.40,154.69L355.92,155.10L356.44,155.52L356.96,155.94L357.47,156.35L357.98,156.77L358.49,157.18L359.00,157.60" stroke="#000000" stroke-width="1.40"/>
<path d="M298.10,236.50L298.18,236.07L298.27,235.64L298.35,235.22L298.44,234.80L298.53,234.39L298.62,233.98L298.71,233.57L298.80,233.16L298.89,232.76L298.99,232.36L299.09,231.97L299.18,231.58L299.28,231.19L299.39,230.81L299.49,230.43L299.59,230.05L299.70,229.67L299.80,229.30L299.91,228.93L300.02,228.56L300.14,228.20L300.25,227.83L300.36,227.47L300.48,227.12L300.60,226.76L300.72,226.41L300.84,226.06L300.97,225.71L301.09,225.37L301.22,225.02L301.35,224.68L301.48,224.34L301.61,224.00L301.74,223.67L301.88,223.33L302.02,223.00L302.16,222.67L302.30,222.34L302.44,222.01L302.59,221.69L302.74,221.36L302.89,221.04L303.04,220.72L303.19,220.39L303.35,220.07L303.51,219.76L303.66,219.44L303.83,219.12L303.99,218.80L304.16,218.49L304.32,218.18L304.49,217.87L304.67,217.56L304.84,217.25L305.02,216.95L305.20,216.65L305.38,216.36L305.56,216.07L305.74,215.78L305.93,215.50L306.12,215.23L306.31,214.96L306.50,214.70L306.70,214.44L306.89,214.19L307.09,213.95L307.29,213.71L307.50,213.49L307.70,213.27L307.91,213.06L308.12,212.85L308.33,212.66L308.55,212.47L308.76,212.29L308.98,212.12L309.20,211.96L309.42,211.80L309.64,211.66L309.86,211.51L310.09,211.38L310.31,211.25L310.54,211.13L310.77,211.02L311.00,210.91L311.23,210.82L311.47,210.72L311.70,210.64L311.94,210.56L312.17,210.48L312.41,210.41L312.65,210.35L312.89,210.30L313.13,210.25L313.37,210.20L313.61,210.16L313.85,210.13L314.09,210.10L314.34,210.08L314.58,210.06L314.82,210.05L315.07,210.04L315.31,210.04L315.56,210.04L315.80,210.05L316.05,210.06L316.30,210.08L316.54,210.10L316.79,210.12L317.03,210.15L317.28,210.19L317.53,210.22L317.77,210.27L318.02,210.31L318.26,210.36L318.51,210.41L318.75,210.47L319.00,210.53L319.24,210.59L319.48,210.65L319.73,210.72L319.97,210.79L320.21,210.87L320.45,210.94L320.69,211.02L320.93,211.10L321.18,211.19L321.42,211.27L321.66,211.36L321.90,211.45L322.14,211.54L322.38,211.64L322.61,211.73L322.85,211.83L323.09,211.93L323.33,212.03L323.57,212.13L323.81,212.23L324.05,212.33L324.28,212.43L324.52,212.53L324.76,212.64L325.00,212.74L325.24,212.85L325.47,212.95L325.71,213.06L325.95,213.16L326.19,213.27L326.42,213.37L326.66,213.47L326.90,213.58L327.14,213.68L327.37,213.79L327.61,213.89L327.85,214.00L328.08,214.11L328.32,214.22L328.56,214.34L328.80,214.45L329.03,214.57L329.27,214.70L329.51,214.83L329.75,214.96L329.98,215.10L330.22,215.24L330.46,215.39L330.70,215.54L330.93,215.70L331.17,215.86L331.41,216.03L331.64,216.21L331.88,216.38L332.12,216.56L332.36,216.75L332.60,216.94L332.84,217.13L333.08,217.33L333.32,217.53L333.56,217.73L333.80,217.94L334.04,218.15L334.28,218.36L334.52,218.57L334.77,218.79L335.01,219.00L335.26,219.22L335.50,219.44L335.75,219.67L335.99,219.89L336.24,220.12L336.49,220.34L336.74,220.57L336.99,220.80L337.24,221.03L337.50,221.26L337.75,221.48L338.01,221.71L338.26,221.94L338.52,222.17L338.78,222.40L339.04,222.62L339.30,222.85L339.56,223.08L339.83,223.30L340.09,223.52L340.36,223.74L340.63,223.96L340.90,224.18L341.18,224.40L341.46,224.63L341.74,224.85L342.03,225.08L342.33,225.32L342.63,225.56L342.94,225.80L343.26,226.06L343.59,226.32L343.92,226.59L344.27,226.87L344.63,227.16L345.00,227.46L345.38,227.77L345.77,228.10L346.18,228.44L346.60,228.80L347.03,229.17L347.48,229.56L347.95,229.96L348.43,230.39L348.93,230.83L349.44,231.29L349.98,231.78L350.53,232.28L351.11,232.81L351.70,233.36L352.32,233.94L352.95,234.54L353.61,235.16L354.29,235.82L355.00,236.50" stroke="#0000ff" stroke-width="1.05" stroke-dasharray="3.8,0.8,0.8,0.8"/>
<path d="M288.80,236.52L288.87,235.60L288.94,234.67L289.02,233.74L289.09,232.81L289.16,231.88L289.24,230.95L289.31,230.02L289.39,229.09L289.46,228.16L289.54,227.23L289.61,226.30L289.69,225.38L289.76,224.45L289.84,223.54L289.92,222.62L289.99,221.71L290.07,220.80L290.15,219.89L290.22,219.00L290.30,218.10L290.38,217.21L290.45,216.33L290.53,215.46L290.61,214.59L290.68,213.73L290.76,212.88L290.84,212.04L290.91,211.21L290.99,210.38L291.06,209.57L291.14,208.77L291.21,207.97L291.29,207.19L291.36,206.42L291.44,205.66L291.51,204.92L291.58,204.18L291.65,203.46L291.73,202.75L291.80,202.04L291.87,201.34L291.95,200.64L292.02,199.95L292.10,199.26L292.18,198.56L292.26,197.87L292.34,197.16L292.42,196.46L292.51,195.74L292.60,195.02L292.69,194.28L292.78,193.53L292.88,192.78L292.97,192.02L293.07,191.24L293.18,190.47L293.28,189.68L293.39,188.89L293.50,188.09L293.61,187.29L293.73,186.49L293.84,185.69L293.96,184.88L294.08,184.08L294.20,183.27L294.32,182.46L294.44,181.66L294.57,180.86L294.70,180.06L294.82,179.27L294.95,178.48L295.08,177.69L295.21,176.92L295.34,176.15L295.47,175.39L295.61,174.64L295.74,173.89L295.87,173.16L296.01,172.44L296.14,171.74L296.28,171.04L296.41,170.36L296.55,169.69L296.69,169.04L296.82,168.39L296.96,167.76L297.10,167.13L297.25,166.50L297.39,165.87L297.54,165.24L297.70,164.60L297.86,163.96L298.03,163.30L298.20,162.64L298.38,161.96L298.56,161.27L298.76,160.56L298.95,159.84L299.16,159.12L299.36,158.38L299.58,157.64L299.79,156.90L300.01,156.15L300.23,155.41L300.45,154.67L300.67,153.93L300.90,153.20L301.12,152.48L301.34,151.77L301.57,151.07L301.79,150.38L302.01,149.71L302.23,149.05L302.45,148.41L302.66,147.78L302.88,147.17L303.10,146.57L303.32,145.98L303.55,145.41L303.77,144.85L304.00,144.31L304.23,143.78L304.47,143.26L304.71,142.75L304.95,142.26L305.20,141.78L305.46,141.31L305.72,140.85L305.99,140.41L306.26,139.98L306.55,139.56L306.84,139.15L307.14,138.75L307.45,138.37L307.77,137.99L308.10,137.63L308.43,137.28L308.78,136.94L309.13,136.61L309.50,136.29L309.87,135.99L310.25,135.69L310.63,135.42L311.03,135.15L311.43,134.90L311.84,134.66L312.25,134.43L312.67,134.22L313.10,134.02L313.54,133.84L313.98,133.67L314.43,133.51L314.88,133.37L315.34,133.25L315.80,133.14L316.27,133.05L316.75,132.97L317.23,132.91L317.71,132.87L318.20,132.84L318.70,132.83L319.19,132.83L319.70,132.85L320.20,132.89L320.71,132.95L321.23,133.02L321.75,133.11L322.27,133.21L322.79,133.33L323.32,133.47L323.85,133.62L324.39,133.79L324.92,133.97L325.46,134.16L325.99,134.36L326.53,134.58L327.06,134.80L327.60,135.04L328.14,135.29L328.67,135.55L329.20,135.82L329.73,136.09L330.26,136.38L330.79,136.67L331.31,136.97L331.83,137.28L332.35,137.59L332.86,137.90L333.37,138.23L333.87,138.55L334.38,138.89L334.88,139.22L335.37,139.56L335.87,139.91L336.36,140.26L336.85,140.62L337.34,140.97L337.83,141.34L338.32,141.70L338.80,142.07L339.29,142.45L339.78,142.82L340.27,143.20L340.75,143.59L341.24,143.97L341.73,144.36L342.23,144.75L342.72,145.15L343.22,145.54L343.71,145.94L344.21,146.34L344.72,146.74L345.23,147.15L345.74,147.55L346.25,147.96L346.76,148.37L347.28,148.77L347.80,149.18L348.32,149.60L348.85,150.01L349.37,150.42L349.89,150.83L350.42,151.25L350.95,151.66L351.47,152.08L352.00,152.50L352.53,152.91L353.05,153.33L353.58,153.75L354.10,154.16L354.63,154.58L355.15,155.00L355.67,155.41L356.19,155.83L356.70,156.25L357.22,156.66L357.73,157.08L358.24,157.49L358.75,157.91" stroke="#ff0000" stroke-width="1.15" stroke-dasharray="2.4,1.1"/>
</g>
<g fill="none" stroke="#000" stroke-width="1">
<rect x="45.20" y="16.00" width="313.80" height="220.40"/>
<path d="M69.34,236.40v-3.60M69.34,16.00v3.60M117.62,236.40v-3.60M117.62,16.00v3.60M165.89,236.40v-3.60M165.89,16.00v3.60M214.17,236.40v-3.60M214.17,16.00v3.60M262.45,236.40v-3.60M262.45,16.00v3.60M310.72,236.40v-3.60M310.72,16.00v3.60M45.20,192.32h3.60M45.20,148.24h3.60M45.20,104.16h3.60M45.20,60.08h3.60M359.00,48.25h-3.60M359.00,92.54h-3.60M359.00,136.83h-3.60M359.00,181.12h-3.60M359.00,225.41h-3.60"/>
</g>
<path d="M96.5,27.5H109.6" stroke="#000" stroke-width="1.4" fill="none"/>
<path d="M213.0,27.5H227.0" stroke="#0000ff" stroke-width="1.1" fill="none" stroke-dasharray="3.8,0.8,0.8,0.8"/>
<path d="M330.0,27.5H342.9" stroke="#ff0000" stroke-width="1.1" fill="none" stroke-dasharray="2.4,1.0"/>
<g font-family="'Liberation Serif', serif" font-size="13.30px" fill="#000">
<text x="37.2" y="240.55" text-anchor="end">23</text>
<text x="37.2" y="196.47" text-anchor="end">24</text>
<text x="37.2" y="152.39" text-anchor="end">25</text>
<text x="37.2" y="108.31" text-anchor="end">26</text>
<text x="37.2" y="64.23" text-anchor="end">27</text>
<text x="37.2" y="20.15" text-anchor="end">28</text>
<text x="70.94" y="254.0" text-anchor="middle">8</text>
<text x="119.22" y="254.0" text-anchor="middle">9</text>
<text x="167.49" y="254.0" text-anchor="middle">10</text>
<text x="215.77" y="254.0" text-anchor="middle">11</text>
<text x="264.05" y="254.0" text-anchor="middle">12</text>
<text x="312.32" y="254.0" text-anchor="middle">13</text>
<text x="360.60" y="254.0" text-anchor="middle">14</text>
<text x="373.9" y="52.65" text-anchor="middle">0</text>
<text x="373.9" y="96.94" text-anchor="middle">-1</text>
<text x="373.9" y="141.23" text-anchor="middle">-2</text>
<text x="373.9" y="185.52" text-anchor="middle">-3</text>
<text x="373.9" y="229.81" text-anchor="middle">-4</text>
<text x="88.8" y="31.6" text-anchor="end">total</text>
<text x="205.1" y="31.6" text-anchor="end">primary e</text>
<text x="322.2" y="31.6" text-anchor="end">secondary e</text>
<text x="108.5" y="60.0">1293 d</text>
<text x="166.6" y="65.4">137 d</text>
<text x="238.6" y="82.2">14.5 d</text>
<text x="311.2" y="131.1">1.5 d</text>
<text x="202.2" y="274.8" text-anchor="middle">log ν (GHz)</text>
<text transform="translate(13.1,126.5) rotate(-90)" text-anchor="middle">log&#160; L<tspan font-size="12.2px" dy="5.2">ν</tspan><tspan dy="-5.2"> (erg/s Hz)</tspan></text>
<text transform="translate(391.6,126.7) rotate(-90)" text-anchor="middle">log F<tspan font-size="12.2px" dy="5.4">ν</tspan><tspan dy="-5.4"> (mJy)</tspan></text>
</g>
</svg>
</body>
</html>
